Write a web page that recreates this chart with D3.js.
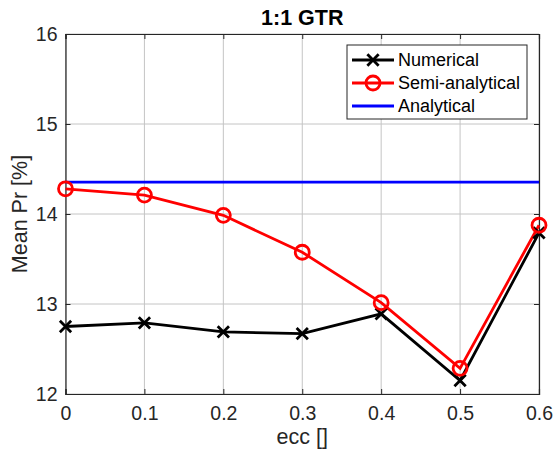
<!DOCTYPE html>
<html>
<head>
<meta charset="utf-8">
<script src="https://cdn.jsdelivr.net/npm/d3@7"></script>
<style>
  body { margin: 0; background: #fff; }
  text { font-family: "Liberation Sans", Arial, sans-serif; fill: #262626; }
</style>
</head>
<body>
<div id="chart"></div>
<script>
var ecc = [0, 0.1, 0.2, 0.3, 0.4, 0.5, 0.6];
var numerical = [12.75, 12.79, 12.69, 12.67, 12.89, 12.15, 13.79];
var semiAnalytical = [14.28, 14.21, 13.985, 13.575, 13.015, 12.285, 13.875];
var analytical = [14.355, 14.355, 14.355, 14.355, 14.355, 14.355, 14.355];
var xTicks = [0, 0.1, 0.2, 0.3, 0.4, 0.5, 0.6];
var yTicks = [12, 13, 14, 15, 16];

var W = 553, H = 458;
var margin = {left: 65.5, right: 14, top: 34, bottom: 64};
var width = W - margin.left - margin.right,
    height = H - margin.top - margin.bottom;

var x = d3.scaleLinear().domain([0, 0.6]).range([0, width]);
var y = d3.scaleLinear().domain([12, 16]).range([height, 0]);

var svg = d3.select("#chart").append("svg")
    .attr("width", W)
    .attr("height", H)
  .append("g")
    .attr("transform", "translate(" + margin.left + "," + margin.top + ")");

// grid
svg.append("g").selectAll("line")
    .data(xTicks)
    .enter().append("line")
    .attr("x1", function(d) { return x(d); })
    .attr("x2", function(d) { return x(d); })
    .attr("y1", 0).attr("y2", height)
    .attr("stroke", "#c4c4c4").attr("stroke-width", 1);
svg.append("g").selectAll("line")
    .data(yTicks)
    .enter().append("line")
    .attr("x1", 0).attr("x2", width)
    .attr("y1", function(d) { return y(d); })
    .attr("y2", function(d) { return y(d); })
    .attr("stroke", "#c4c4c4").attr("stroke-width", 1);

// axes (MATLAB style: inner ticks, box)
var xAxis = svg.append("g")
    .attr("transform", "translate(0," + height + ")")
    .call(d3.axisBottom(x).tickValues(xTicks).tickSize(-5).tickPadding(12)
        .tickFormat(d3.format("")));
var yAxis = svg.append("g")
    .call(d3.axisLeft(y).tickValues(yTicks).tickSize(-5).tickPadding(8)
        .tickFormat(d3.format("d")));
var xTop = svg.append("g")
    .call(d3.axisTop(x).tickValues(xTicks).tickSize(-5).tickFormat(""));
var yRight = svg.append("g")
    .attr("transform", "translate(" + width + ",0)")
    .call(d3.axisRight(y).tickValues(yTicks).tickSize(-5).tickFormat(""));

[xAxis, yAxis, xTop, yRight].forEach(function(a) {
    a.selectAll("path").attr("stroke", "#262626").attr("stroke-width", 1.2);
    a.selectAll("line").attr("stroke", "#262626");
    a.selectAll("text").style("font-size", "19.5px").attr("fill", "#262626")
        .style("font-family", "'Liberation Sans', Arial, sans-serif");
});

// lines
var line = d3.line()
    .x(function(d, i) { return x(ecc[i]); })
    .y(function(d) { return y(d); });

svg.append("path").datum(analytical)
    .attr("fill", "none").attr("stroke", "#0000ff").attr("stroke-width", 2.8)
    .attr("d", line);

svg.append("path").datum(numerical)
    .attr("fill", "none").attr("stroke", "#000").attr("stroke-width", 2.8)
    .attr("d", line);

svg.append("path").datum(semiAnalytical)
    .attr("fill", "none").attr("stroke", "#ff0000").attr("stroke-width", 2.8)
    .attr("d", line);

var cross = d3.symbol().type(d3.symbolX).size(85);

svg.selectAll(".xmark")
    .data(numerical)
    .enter().append("path")
    .attr("class", "xmark")
    .attr("d", cross)
    .attr("transform", function(d, i) { return "translate(" + x(ecc[i]) + "," + y(d) + ")"; })
    .attr("fill", "none").attr("stroke", "#000").attr("stroke-width", 2.8);

svg.selectAll(".omark")
    .data(semiAnalytical)
    .enter().append("circle")
    .attr("class", "omark")
    .attr("cx", function(d, i) { return x(ecc[i]); })
    .attr("cy", function(d) { return y(d); })
    .attr("r", 7)
    .attr("fill", "none").attr("stroke", "#ff0000").attr("stroke-width", 2.8);

// title and labels
svg.append("text")
    .attr("x", width / 2).attr("y", 25.3 - margin.top)
    .attr("text-anchor", "middle")
    .style("font-size", "21.5px").style("font-weight", "bold")
    .style("fill", "#000")
    .text("1:1 GTR");

svg.append("text")
    .attr("x", width / 2).attr("y", 444 - margin.top)
    .attr("text-anchor", "middle")
    .style("font-size", "21.5px")
    .text("ecc []");

svg.append("text")
    .attr("transform", "translate(" + (27 - margin.left) + "," + (height / 2) + ") rotate(-90)")
    .attr("text-anchor", "middle")
    .style("font-size", "21.5px")
    .text("Mean Pr [%]");

// legend
var legendItems = [
    {name: "Numerical", color: "#000", marker: "x"},
    {name: "Semi-analytical", color: "#ff0000", marker: "o"},
    {name: "Analytical", color: "#0000ff", marker: "none"}
];
var lx = 347 - margin.left, ly = 45 - margin.top;
var legend = svg.append("g").attr("transform", "translate(" + lx + "," + ly + ")");
legend.append("rect")
    .attr("width", 180).attr("height", 74)
    .attr("fill", "#fff").attr("stroke", "#262626").attr("stroke-width", 1);

var rows = legend.selectAll(".row")
    .data(legendItems)
    .enter().append("g")
    .attr("transform", function(d, i) { return "translate(0," + (15 + i * 23) + ")"; });

rows.append("line")
    .attr("x1", 5).attr("x2", 47)
    .attr("stroke", function(d) { return d.color; })
    .attr("stroke-width", 2.8);
rows.filter(function(d) { return d.marker === "x"; })
    .append("path")
    .attr("d", cross)
    .attr("transform", "translate(26,0)")
    .attr("fill", "none").attr("stroke", "#000").attr("stroke-width", 2.8);
rows.filter(function(d) { return d.marker === "o"; })
    .append("circle")
    .attr("cx", 26).attr("r", 7)
    .attr("fill", "none").attr("stroke", "#ff0000").attr("stroke-width", 2.8);
rows.append("text")
    .attr("x", 51).attr("dy", "0.35em")
    .style("font-size", "18px").style("fill", "#000")
    .text(function(d) { return d.name; });
</script>
</body>
</html>
